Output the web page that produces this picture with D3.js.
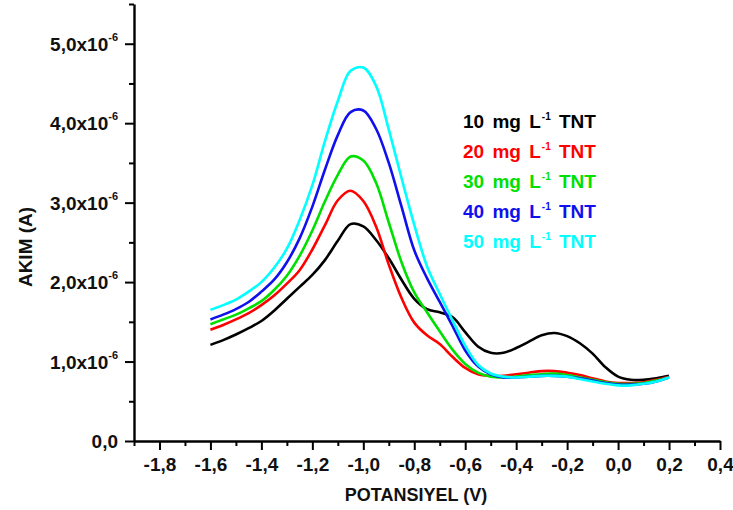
<!DOCTYPE html>
<html>
<head>
<meta charset="utf-8">
<script src="https://cdn.jsdelivr.net/npm/d3@7"></script>
<style>
  html, body { margin: 0; padding: 0; background: #fff; }
  svg { display: block; }
  text { font-family: "Liberation Sans", Arial, sans-serif; font-weight: bold; fill: #111; }
</style>
</head>
<body>
<svg id="chart" width="733" height="510"></svg>
<script>
// Potential sweep (V) shared by all voltammograms
const potential = [-1.60,-1.55,-1.50,-1.45,-1.40,-1.35,-1.30,-1.25,-1.20,-1.15,-1.10,-1.05,-1.00,-0.95,-0.90,-0.85,-0.80,-0.75,-0.70,-0.65,-0.60,-0.55,-0.50,-0.45,-0.40,-0.35,-0.30,-0.25,-0.20,-0.15,-0.10,-0.05,0.00,0.05,0.10,0.15,0.20];

// Current (x10^-6 A) for each TNT concentration
const tnt10 = [1.21,1.27,1.34,1.42,1.51,1.64,1.79,1.94,2.09,2.28,2.52,2.73,2.70,2.53,2.30,2.03,1.79,1.66,1.62,1.56,1.37,1.19,1.11,1.11,1.17,1.25,1.33,1.36,1.32,1.23,1.10,0.93,0.81,0.77,0.77,0.79,0.82];
const tnt20 = [1.40,1.46,1.53,1.61,1.71,1.83,1.98,2.15,2.41,2.72,3.03,3.15,3.02,2.70,2.22,1.80,1.49,1.33,1.22,1.06,0.92,0.84,0.82,0.82,0.84,0.86,0.88,0.88,0.86,0.83,0.79,0.75,0.73,0.73,0.74,0.77,0.81];
const tnt30 = [1.47,1.53,1.59,1.67,1.76,1.90,2.08,2.33,2.65,3.02,3.35,3.58,3.53,3.25,2.75,2.25,1.87,1.62,1.38,1.15,0.97,0.86,0.81,0.80,0.81,0.83,0.84,0.85,0.83,0.80,0.77,0.74,0.72,0.72,0.73,0.76,0.80];
const tnt40 = [1.53,1.59,1.66,1.75,1.88,2.03,2.25,2.55,2.95,3.42,3.85,4.14,4.16,3.93,3.50,2.95,2.40,2.05,1.75,1.45,1.14,0.94,0.84,0.80,0.80,0.81,0.82,0.82,0.81,0.79,0.76,0.73,0.71,0.71,0.72,0.75,0.80];
const tnt50 = [1.65,1.71,1.78,1.88,2.00,2.18,2.42,2.78,3.22,3.78,4.28,4.66,4.70,4.47,3.92,3.31,2.72,2.20,1.85,1.52,1.20,0.96,0.85,0.81,0.80,0.81,0.82,0.82,0.81,0.78,0.75,0.72,0.70,0.70,0.72,0.75,0.80];

const seriesNames = ["10 mg L", "20 mg L", "30 mg L", "40 mg L", "50 mg L"];
const seriesColors = ["#000000", "#ff0000", "#00e000", "#1010ee", "#00ffff"];
const seriesValues = [tnt10, tnt20, tnt30, tnt40, tnt50];

// Axis ticks
const xMajorTicks = [-1.8,-1.6,-1.4,-1.2,-1.0,-0.8,-0.6,-0.4,-0.2,0.0,0.2,0.4];
const xMinorTicks = [-1.9,-1.7,-1.5,-1.3,-1.1,-0.9,-0.7,-0.5,-0.3,-0.1,0.1,0.3];
const yMajorTicks = [0,1,2,3,4,5];
const yMinorTicks = [0.5,1.5,2.5,3.5,4.5,5.5];

const svg = d3.select("#chart");

const x = d3.scaleLinear().domain([-1.9, 0.4]).range([134, 720]);
const y = d3.scaleLinear().domain([0, 5.5]).range([441, 4]);

const comma = v => d3.format(".1f")(v).replace("\u2212", "-").replace(".", ",");

// Curves
const line = d3.line()
  .x(d => x(d[0]))
  .y(d => y(d[1]))
  .curve(d3.curveCatmullRom.alpha(0.5));

seriesValues.forEach((vals, i) => {
  svg.append("path")
    .datum(potential.map((p, j) => [p, vals[j]]))
    .attr("fill", "none")
    .attr("stroke", seriesColors[i])
    .attr("stroke-width", 2.6)
    .attr("stroke-linejoin", "round")
    .attr("d", line);
});

// X axis
const xAxisG = svg.append("g").attr("transform", `translate(0,${y(0)})`);
xAxisG.append("g")
  .call(d3.axisBottom(x).tickValues(xMinorTicks).tickSize(5).tickFormat(""))
  .call(g => g.select(".domain").remove());
xAxisG.append("g")
  .call(d3.axisBottom(x).tickValues(xMajorTicks).tickSize(9).tickPadding(8).tickSizeOuter(0).tickFormat(comma))
  .call(g => g.selectAll("text").attr("font-size", 19).attr("font-family", null).attr("fill", "#111"));
xAxisG.selectAll("line").attr("stroke", "#000").attr("stroke-width", 2);
xAxisG.selectAll(".domain").attr("stroke", "#000").attr("stroke-width", 2.4);

// Y axis
const yAxisG = svg.append("g").attr("transform", `translate(${x(-1.9)},0)`);
yAxisG.append("g")
  .call(d3.axisLeft(y).tickValues(yMinorTicks).tickSize(5).tickFormat(""))
  .call(g => g.select(".domain").remove());
yAxisG.append("g")
  .call(d3.axisLeft(y).tickValues(yMajorTicks).tickSize(9).tickSizeOuter(0).tickFormat(""));
yAxisG.selectAll("line").attr("stroke", "#000").attr("stroke-width", 2);
yAxisG.selectAll(".domain").attr("stroke", "#000").attr("stroke-width", 2.4);

// Y tick labels in scientific notation with superscript exponent
yMajorTicks.forEach(v => {
  const t = svg.append("text")
    .attr("x", x(-1.9) - 16)
    .attr("y", y(v) + 7)
    .attr("text-anchor", "end")
    .attr("font-size", 19);
  if (v === 0) {
    t.text(comma(v));
  } else {
    t.append("tspan").text(comma(v) + "x10");
    t.append("tspan").attr("font-size", 11).attr("dy", -10).text("-6");
  }
});

// Axis titles
svg.append("text")
  .attr("x", 416)
  .attr("y", 501)
  .attr("text-anchor", "middle")
  .attr("font-size", 18)
  .text("POTANSIYEL (V)");

svg.append("text")
  .attr("transform", "translate(32,247) rotate(-90)")
  .attr("text-anchor", "middle")
  .attr("font-size", 19)
  .text("AKIM (A)");

// Legend
seriesNames.forEach((name, i) => {
  const t = svg.append("text")
    .attr("x", 463)
    .attr("y", 128 + i * 30)
    .attr("font-size", 19)
    .style("word-spacing", "3px")
    .style("fill", seriesColors[i]);
  t.append("tspan").text(name);
  t.append("tspan").attr("font-size", 10).attr("dx", 1).attr("dy", -8).text("-1");
  t.append("tspan").attr("dy", 8).text(" TNT");
});
</script>
</body>
</html>
